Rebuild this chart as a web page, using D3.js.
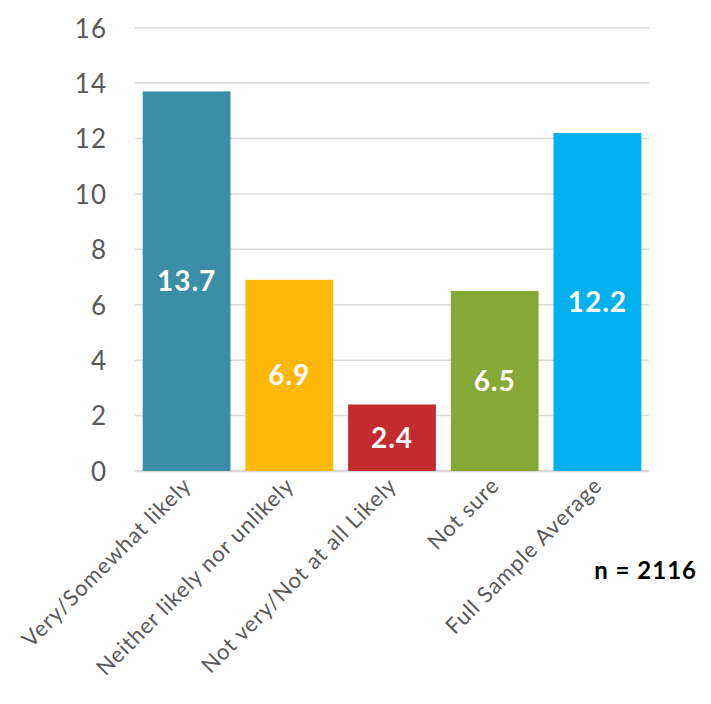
<!DOCTYPE html>
<html>
<head>
<meta charset="utf-8">
<script src="https://cdn.jsdelivr.net/npm/d3@7"></script>
<style>
  body { margin: 0; background: #fff; }
  svg text { font-family: Lato, "Open Sans", sans-serif; }
</style>
</head>
<body>
<svg class="chart"></svg>
<script>
// data
var categories = [
  'Very/Somewhat likely',
  'Neither likely nor unlikely',
  'Not very/Not at all Likely',
  'Not sure',
  'Full Sample Average'
];
var values = [13.7, 6.9, 2.4, 6.5, 12.2];
var colors = ['#3a8fa6', '#ffb70a', '#c42b2f', '#86a936', '#00b0ef'];
var yTicks = [0, 2, 4, 6, 8, 10, 12, 14, 16];
var note = 'n = 2116';

// chart
var width = 711;
var height = 704;
var plot = { left: 135, right: 649, top: 27.7, bottom: 471 };

var chart = d3.select('.chart')
    .attr('width', width)
    .attr('height', height)

var x = d3.scaleBand()
    .domain(categories)
    .range([plot.left, plot.right])
    .paddingInner(0.145)
    .paddingOuter(0.075)

var y = d3.scaleLinear()
    .domain([0, 16])
    .range([plot.bottom, plot.top])

// gridlines
chart.append('g')
    .selectAll('line')
    .data(yTicks)
  .enter().append('line')
    .attr('x1', plot.left)
    .attr('x2', plot.right)
    .attr('y1', function(d){return y(d);})
    .attr('y2', function(d){return y(d);})
    .attr('stroke', '#d9d9d9')
    .attr('stroke-width', function(d){return d === 0 ? 2.5 : 1.5;})

// y axis labels
var yAxis = d3.axisLeft(y)
    .tickValues(yTicks)
    .tickSize(0)
    .tickPadding(0)

var yG = chart.append('g')
    .attr('transform', 'translate(107,0)')
    .call(yAxis)
yG.select('.domain').remove();
yG.selectAll('text')
    .attr('fill', '#595959')
    .style('font-size', '26px')
    .style('letter-spacing', '1px')
    .attr('dy', '0.36em')

// bars
chart.selectAll('.bar')
    .data(values)
  .enter().append('rect')
    .attr('class', 'bar')
    .attr('x', function(d, i){return x(categories[i]);})
    .attr('width', x.bandwidth())
    .attr('y', function(d){return y(d);})
    .attr('height', function(d){return y(0) - y(d);})
    .attr('fill', function(d, i){return colors[i];})

// value labels, centred in each bar
chart.selectAll('.valueLabel')
    .data(values)
  .enter().append('text')
    .attr('class', 'valueLabel')
    .attr('x', function(d, i){return x(categories[i]) + x.bandwidth()/2;})
    .attr('y', function(d){return (y(d) + y(0))/2;})
    .attr('dy', '0.36em')
    .attr('text-anchor', 'middle')
    .attr('fill', '#fff')
    .style('font-size', '28px')
    .style('font-weight', 'bold')
    .style('letter-spacing', '1px')
    .text(function(d){return d.toFixed(1);})

// category labels (rotated)
chart.selectAll('.catLabel')
    .data(categories)
  .enter().append('text')
    .attr('class', 'catLabel')
    .attr('transform', function(d){
      return 'translate(' + (x(d) + x.bandwidth()/2 + 6) + ',' + (plot.bottom + 16) + ') rotate(-45)';
    })
    .attr('text-anchor', 'end')
    .attr('fill', '#595959')
    .style('font-size', '22px')
    .style('letter-spacing', '0.9px')
    .text(function(d){return d;})

// sample size note
chart.append('text')
    .attr('x', 697)
    .attr('y', 579)
    .attr('text-anchor', 'end')
    .attr('fill', '#000')
    .style('font-size', '24px')
    .style('font-weight', 'bold')
    .style('letter-spacing', '1px')
    .text(note)
</script>
</body>
</html>
